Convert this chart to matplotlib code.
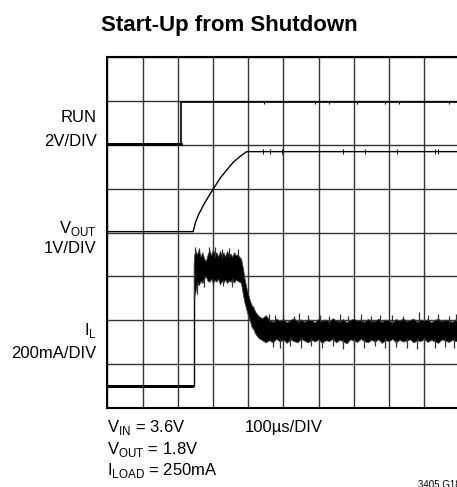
import numpy as np
import matplotlib.pyplot as plt

plt.rcParams['font.family'] = ['Liberation Sans', 'DejaVu Sans']
plt.rcParams['mathtext.fontset'] = 'custom'
plt.rcParams['mathtext.rm'] = 'Liberation Sans'

W, H = 457, 487

# RUN trace (scope divisions)
run_x = [0, 2.08, 2.08, 10]
run_y = [6.02, 6.02, 6.98, 6.98]
run_glitch_x = [4.45, 5.9, 6.3, 7.1, 7.9, 8.3, 9.7]

# VOUT trace
vout_x = [0, 2.44, 2.5, 2.6, 2.75, 2.9, 3.05, 3.2, 3.39, 3.58, 3.77, 3.96, 10]
vout_y = [4.02, 4.02, 4.22, 4.42, 4.65, 4.85, 5.04, 5.23, 5.42, 5.6, 5.73, 5.84, 5.84]
vout_glitch_x = [4.42, 4.62, 4.96, 6.7, 7.32, 8.23, 9.3, 9.4]

# IL baseline and step
il_base_x = [0, 2.45]
il_base_lo = [0.47, 0.47]
il_base_hi = [0.54, 0.54]
il_step_top = 3.3

# IL core envelope after the step
il_x = [2.46, 2.5, 2.55, 2.6, 2.65, 2.7, 2.75, 2.8, 2.85, 2.9, 2.95, 3.0, 3.05, 3.1,
        3.15, 3.2, 3.25, 3.3, 3.35, 3.4, 3.45, 3.5, 3.55, 3.6, 3.65, 3.7, 3.75, 3.8,
        3.85, 3.9, 3.95, 4.0, 4.05, 4.1, 4.15, 4.2, 4.25, 4.3, 4.4, 4.5,
        4.6, 4.7, 4.8, 4.9, 5.0, 5.1, 5.2, 5.3, 5.4, 5.5, 5.6, 5.7, 5.8, 5.9,
        6.0, 6.1, 6.2, 6.3, 6.4, 6.5, 6.6, 6.7, 6.8, 6.9, 7.0, 7.1, 7.2, 7.3,
        7.4, 7.5, 7.6, 7.7, 7.8, 7.9, 8.0, 8.1, 8.2, 8.3, 8.4, 8.5, 8.6, 8.7,
        8.8, 8.9, 9.0, 9.1, 9.2, 9.3, 9.4, 9.5, 9.6, 9.7, 9.8, 9.9, 10.0]
il_lo = [2.5, 2.65, 2.85, 2.8, 2.9, 2.85, 2.95, 3.0, 2.9, 2.88, 2.95, 2.85, 2.92, 2.88,
         2.95, 2.82, 2.9, 2.86, 2.93, 2.85, 2.9, 2.88, 2.92, 2.86, 2.93, 2.9, 2.88, 2.85,
         2.6, 2.4, 2.25, 2.1, 2.0, 1.85, 1.8, 1.7, 1.65, 1.6, 1.55, 1.5,
         1.55, 1.5, 1.58, 1.52, 1.56, 1.49, 1.57, 1.53, 1.5, 1.58, 1.54, 1.5, 1.56, 1.52,
         1.57, 1.49, 1.55, 1.53, 1.58, 1.5, 1.56, 1.52, 1.48, 1.57, 1.54, 1.51, 1.58, 1.53,
         1.5, 1.56, 1.52, 1.57, 1.49, 1.55, 1.53, 1.58, 1.5, 1.56, 1.52, 1.54, 1.57, 1.5,
         1.55, 1.53, 1.58, 1.51, 1.56, 1.52, 1.49, 1.57, 1.54, 1.51, 1.56, 1.53, 1.55]
il_hi = [3.45, 3.6, 3.5, 3.62, 3.45, 3.55, 3.4, 3.35, 3.5, 3.6, 3.48, 3.62, 3.5, 3.55,
         3.45, 3.58, 3.48, 3.55, 3.45, 3.58, 3.5, 3.52, 3.45, 3.55, 3.48, 3.5, 3.45, 3.4,
         3.2, 2.95, 2.75, 2.6, 2.45, 2.35, 2.3, 2.2, 2.15, 2.1, 2.05, 2.12,
         2.02, 1.97, 2.04, 1.99, 2.03, 1.96, 2.01, 2.05, 1.98, 2.02, 1.97, 2.03, 2.0, 1.96,
         2.04, 1.99, 2.02, 1.97, 2.05, 2.0, 1.98, 2.03, 1.96, 2.01, 2.04, 1.99, 2.02, 1.97,
         2.03, 2.0, 1.98, 2.04, 1.97, 2.02, 2.0, 1.96, 2.03, 1.99, 2.05, 1.98, 2.01, 2.04,
         1.97, 2.02, 1.99, 2.03, 1.96, 2.01, 2.04, 1.98, 2.02, 2.0, 1.97, 2.03, 2.01]

# ripple spikes sticking out of the core band
spk_top_x = [2.5, 2.6, 2.9, 3.05, 3.25, 3.45, 3.7,
             4.6, 4.75, 5.0, 5.3, 5.45, 5.7, 6.05, 6.3, 6.6, 6.85, 7.2, 7.5, 7.75,
             8.1, 8.4, 8.85, 9.1, 9.4, 9.7, 9.9]
spk_top_y = [3.68, 3.65, 3.66, 3.67, 3.63, 3.64, 3.62,
             2.15, 2.12, 2.14, 2.1, 2.16, 2.12, 2.13, 2.1, 2.15, 2.11, 2.14, 2.1, 2.13,
             2.12, 2.1, 2.2, 2.12, 2.15, 2.11, 2.14]
spk_bot_x = [2.47, 2.55, 2.75, 3.0, 3.3, 3.55,
             4.7, 4.9, 5.2, 5.5, 5.8, 6.1, 6.4, 6.7, 7.0, 7.3, 7.6, 7.9, 8.2, 8.5,
             8.8, 9.0, 9.3, 9.6, 9.85]
spk_bot_y = [2.45, 2.6, 2.75, 2.76, 2.78, 2.77,
             1.4, 1.38, 1.42, 1.37, 1.41, 1.38, 1.42, 1.36, 1.4, 1.38, 1.42, 1.37, 1.4, 1.38,
             1.36, 1.41, 1.38, 1.4, 1.37]

fig = plt.figure(figsize=(W / 100, H / 100), dpi=100)
ax = fig.add_axes([107.3 / W, (H - 408.3) / H, 352 / W, 351.6 / H])
ax.set_xlim(0, 10)
ax.set_ylim(0, 8)
ax.set_xticks(range(11))
ax.set_yticks(range(9))
ax.tick_params(length=0, labelbottom=False, labelleft=False)
ax.grid(True, color='#333333', lw=1.0)
for s in ax.spines.values():
    s.set_linewidth(1.5)
    s.set_color('black')

env_hi = np.interp(spk_top_x, il_x, il_hi)
env_lo = np.interp(spk_bot_x, il_x, il_lo)

ax.plot(run_x, run_y, color='black', lw=1.2, zorder=3)
ax.plot(run_x[:2], run_y[:2], color='black', lw=2.0, zorder=3)
ax.vlines(run_glitch_x, 6.93, 6.98, color='black', lw=0.8, zorder=3)
ax.plot(vout_x, vout_y, color='black', lw=1.0, zorder=3)
ax.vlines(vout_glitch_x, 5.79, 5.89, color='black', lw=0.7, zorder=3)
ax.fill_between(il_base_x, il_base_lo, il_base_hi, color='black', lw=0, zorder=3)
ax.plot([2.45, 2.45], [0.5, il_step_top], color='black', lw=1.0, zorder=3)
ax.fill_between(il_x, il_lo, il_hi, color='black', lw=0.6, edgecolor='#444444', zorder=3)
ax.vlines(spk_top_x, env_hi - 0.05, spk_top_y, color='#333333', lw=0.9, zorder=3)
ax.vlines(spk_bot_x, env_lo + 0.05, spk_bot_y, color='#333333', lw=0.9, zorder=3)


def ftext(x, y, s, **kw):
    fig.text(x / W, 1 - y / H, s, va='baseline', **kw)


ftext(229, 30.7, 'Start-Up from Shutdown', ha='center', fontsize=16, fontweight='bold')

left = dict(ha='right', fontsize=12)
ftext(96.7, 121.7, 'RUN', **left)
ftext(96.7, 145.7, '2V/DIV', **left)
ftext(96.7, 233.3, r'V$_{\mathrm{OUT}}$', **left)
ftext(96.7, 252.7, '1V/DIV', **left)
ftext(96.7, 335, r'I$_{\mathrm{L}}$', **left)
ftext(96.7, 358.3, '200mA/DIV', **left)

bot = dict(ha='left', fontsize=12)
ftext(106.7, 431.7, r'V$_{\mathrm{IN}}$ = 3.6V', **bot)
ftext(106.7, 454.3, r'V$_{\mathrm{OUT}}$ = 1.8V', **bot)
ftext(106.7, 475, r'I$_{\mathrm{LOAD}}$ = 250mA', **bot)
ftext(245, 431.7, '100µs/DIV', **bot)
ftext(418.5, 488, '3405 G18', ha='left', fontsize=7)

fig.savefig('out.png', dpi=100)
